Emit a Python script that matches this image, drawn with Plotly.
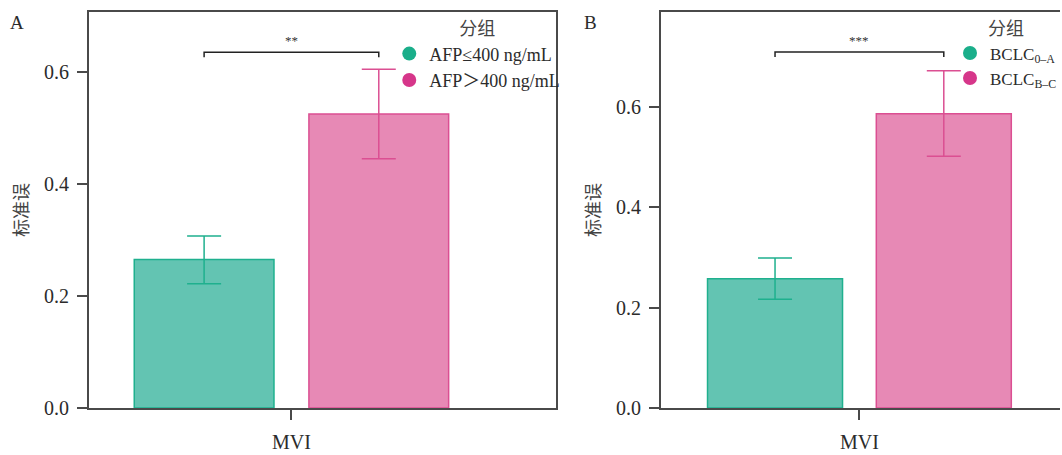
import plotly.graph_objects as go

# ---------------- data ----------------
category = ["MVI"]
groups_a = ["AFP≤400 ng/mL", "AFP＞400 ng/mL"]
groups_b = ["BCLC<sub>0–A</sub>", "BCLC<sub>B–C</sub>"]

mean_a = [0.265, 0.525]
err_hi_a = [0.307, 0.605]
err_lo_a = [0.222, 0.445]

mean_b = [0.258, 0.587]
err_hi_b = [0.299, 0.673]
err_lo_b = [0.217, 0.502]

sig_labels = ["**", "***"]
sig_y = [0.635, 0.710]
panel_labels = ["A", "B"]

# ---------------- style ----------------
FONT = "Liberation Serif, Noto Sans CJK SC, serif"
TXT = "#2b2b2b"
AX = "#4a4a4a"
fills = ["#63C4B2", "#E789B5"]
lines = ["#1FB08E", "#DB4F92"]
dots = ["#1AAE8A", "#D6368A"]
BARGAP = 0.3

W, H = 1062, 455
fig = go.Figure()


def add_panel(means, his, los, names, xa, ya, legend):
    for i, (m, hi, lo, nm) in enumerate(zip(means, his, los, names)):
        fig.add_trace(go.Bar(
            x=category, y=[m], name=nm, offsetgroup=str(i),
            marker=dict(color=fills[i], line=dict(color=lines[i], width=1.5)),
            error_y=dict(type="data", symmetric=False, array=[hi - m], arrayminus=[m - lo],
                         color=lines[i], thickness=1.5, width=17),
            xaxis=xa, yaxis=ya, showlegend=False,
        ))
        fig.add_trace(go.Scatter(
            x=[None], y=[None], mode="markers", name=nm,
            marker=dict(symbol="circle", size=14, color=dots[i]),
            xaxis=xa, yaxis=ya, legend=legend, showlegend=True,
        ))


add_panel(mean_a, err_hi_a, err_lo_a, groups_a, "x", "y", "legend")
add_panel(mean_b, err_hi_b, err_lo_b, groups_b, "x2", "y2", "legend2")

# significance brackets
half = (1 - BARGAP) / 4
for sx, sy, lab in [("x", sig_y[0], sig_labels[0]), ("x2", sig_y[1], sig_labels[1])]:
    yr = "y" if sx == "x" else "y2"
    drop = 0.009 if sx == "x" else 0.01
    fig.add_shape(type="path", xref=sx, yref=yr,
                  path=f"M {-half} {sy - drop} L {-half} {sy} L {half} {sy} L {half} {sy - drop}",
                  line=dict(color="#222222", width=1.5))
    fig.add_annotation(x=0, y=sy, xref=sx, yref=yr, text=lab, showarrow=False,
                       yanchor="bottom", yshift=2, font=dict(family=FONT, size=13, color="#333333"))

axis_common = dict(showline=True, linecolor=AX, linewidth=1.5, ticks="outside", ticklen=10,
                   tickwidth=1.5, tickcolor=AX, showgrid=False, zeroline=False,
                   tickfont=dict(family=FONT, size=20, color=TXT))

yt = dict(text="标准误", font=dict(family=FONT, size=18, color="#444"), standoff=11)

leg_common = dict(xanchor="left", yanchor="top", bgcolor="rgba(0,0,0,0)", tracegroupgap=0,
                  title=dict(text="分组", side="top center", font=dict(family=FONT, size=18, color="#444")))

fig.update_layout(
    width=W, height=H, autosize=False,
    margin=dict(l=0, r=0, t=12, b=47),
    paper_bgcolor="white", plot_bgcolor="white",
    barmode="group", bargap=BARGAP, bargroupgap=0.2,
    font=dict(family=FONT, color=TXT),
    xaxis=dict(domain=[89 / W, 557 / W], type="category", range=[-0.406, 0.53], mirror=True,
               anchor="y", ticklabelstandoff=5, automargin=False, **axis_common),
    yaxis=dict(domain=[0, 1], range=[0, 0.707], tickvals=[0, 0.2, 0.4, 0.6], tickformat=".1f",
               mirror=True, anchor="x", title=yt, ticklabelstandoff=4, automargin=False, **axis_common),
    xaxis2=dict(domain=[662 / W, 1.0], type="category", range=[-0.412, 0.416], mirror=True,
                anchor="y2", ticklabelstandoff=5, automargin=False, **axis_common),
    yaxis2=dict(domain=[0, 1], range=[0, 0.79], tickvals=[0, 0.2, 0.4, 0.6], tickformat=".1f",
                mirror=False, anchor="x2", title=yt, ticklabelstandoff=4, automargin=False, **axis_common),
    legend=dict(x=390 / W, y=1.0, font=dict(family=FONT, size=18, color=TXT), **leg_common),
    legend2=dict(x=952 / W, y=1.0, font=dict(family=FONT, size=17, color=TXT), **leg_common),
)

for lab, px in zip(panel_labels, [17, 592]):
    fig.add_annotation(x=px / W, y=1.0, xref="paper", yref="paper", text=lab, showarrow=False,
                       xanchor="center", yanchor="middle", yshift=-10,
                       font=dict(family=FONT, size=19, color=TXT))

fig.write_html("out.html",
               config={"displayModeBar": False, "responsive": False},
               post_script="document.body.style.margin='0';document.body.style.overflow='hidden';")
